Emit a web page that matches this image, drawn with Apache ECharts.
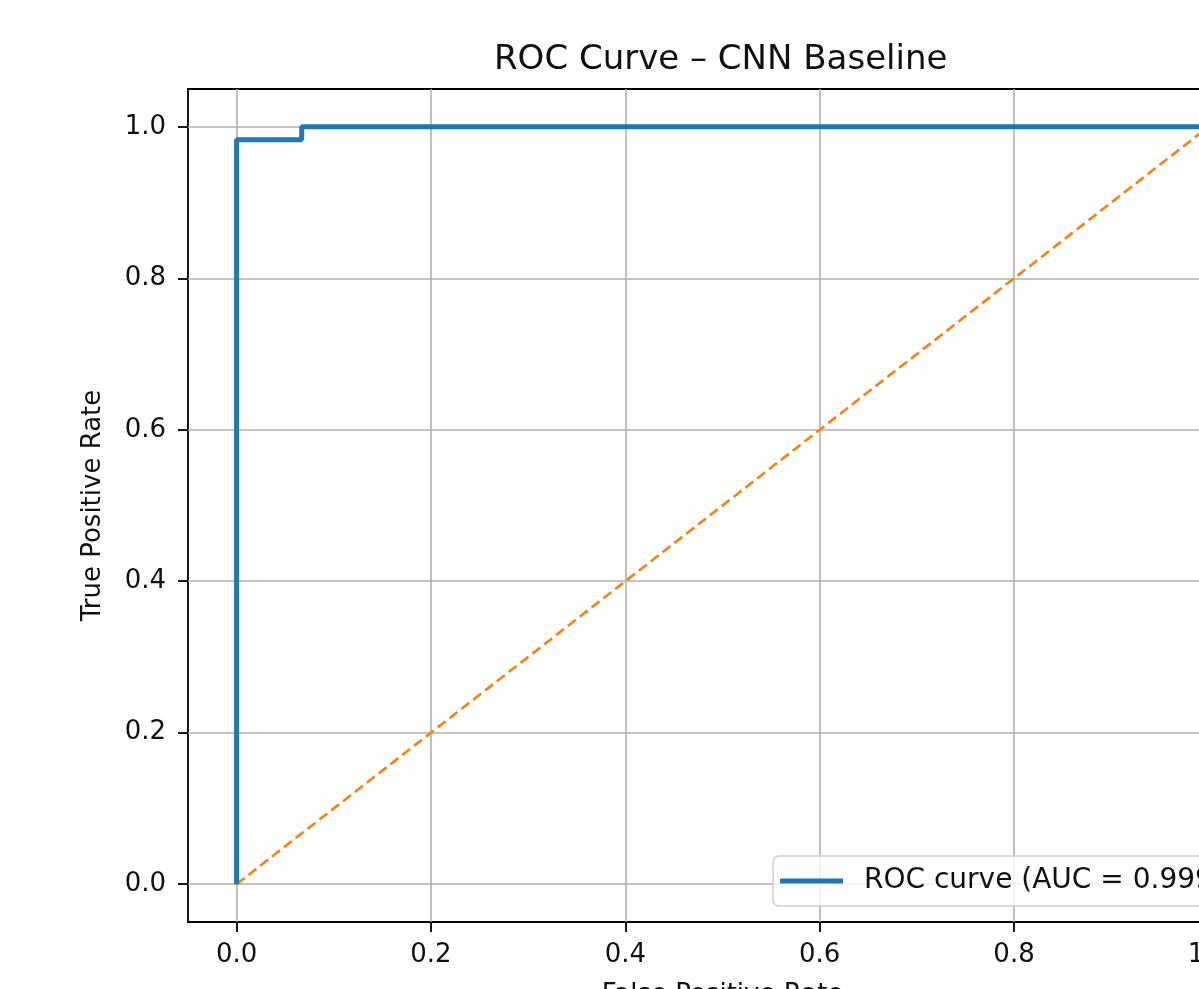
<!DOCTYPE html>
<html>
<head>
<meta charset="utf-8">
<title>ROC Curve</title>
<script src="https://cdn.jsdelivr.net/npm/echarts@6/dist/echarts.min.js"></script>
<style>
  html, body { margin: 0; padding: 0; background: #fff; }
  #chart { width: 1199px; height: 989px; }
</style>
</head>
<body>
<div id="chart"></div>
<script type="text/javascript">
  // ROC curve points (fpr, tpr)
  var rocFpr = [0, 0, 0.067, 0.067, 1];
  var rocTpr = [0, 0.983, 0.983, 1, 1];
  // chance diagonal
  var chanceFpr = [0, 1];
  var chanceTpr = [0, 1];
  var tickValues = [0, 0.2, 0.4, 0.6, 0.8, 1.0];
  var rocName = 'ROC curve (AUC = 0.999)';

  function pairs(xs, ys) {
    var out = [];
    for (var i = 0; i < xs.length; i++) out.push([xs[i], ys[i]]);
    return out;
  }

  var font = 'DejaVu Sans';
  var textColor = '#111';
  var chart = echarts.init(document.getElementById('chart'));

  var axisCommon = {
    type: 'value',
    min: -0.05,
    max: 1.05,
    axisLine: { show: false, onZero: false },
    axisTick: {
      show: true, length: 10, inside: false,
      customValues: tickValues,
      lineStyle: { color: '#000', width: 1.8 }
    },
    axisLabel: {
      customValues: tickValues,
      fontFamily: font, fontSize: 26, color: textColor,
      formatter: function (v) { return v.toFixed(1); }
    },
    splitLine: { show: true, lineStyle: { color: '#b0b0b0', width: 1.6 } },
    nameLocation: 'middle',
    nameTextStyle: { fontFamily: font, fontSize: 26, color: textColor }
  };

  var option = {
    animation: false,
    backgroundColor: '#fff',
    title: {
      text: 'ROC Curve \u2013 CNN Baseline',
      left: 489,
      top: 38,
      textStyle: { fontFamily: font, fontSize: 34, fontWeight: 'normal', color: textColor }
    },
    grid: {
      left: 188, top: 89, right: -58, bottom: 67,
      show: true, borderColor: '#000', borderWidth: 1.8,
      outerBoundsMode: 'none',
      containLabel: false
    },
    legend: {
      data: [rocName],
      left: 773, top: 856,
      orient: 'vertical',
      icon: 'rect',
      padding: [11, 16, 11, 7],
      itemWidth: 63, itemHeight: 5, itemGap: 0,
      backgroundColor: 'rgba(255,255,255,0.8)',
      borderColor: '#d0d0d0', borderWidth: 1.5, borderRadius: 6,
      textStyle: { fontFamily: font, fontSize: 28, color: textColor, padding: [0, 0, 0, 16] }
    },
    xAxis: Object.assign({}, axisCommon, {
      name: 'False Positive Rate',
      nameGap: 60,
      axisLabel: Object.assign({}, axisCommon.axisLabel, { margin: 20 })
    }),
    yAxis: Object.assign({}, axisCommon, {
      name: 'True Positive Rate',
      nameGap: 82,
      axisLabel: Object.assign({}, axisCommon.axisLabel, { margin: 22 })
    }),
    series: [
      {
        name: rocName,
        type: 'line',
        data: pairs(rocFpr, rocTpr),
        symbol: 'none',
        clip: false,
        lineStyle: { color: '#1f77b4', width: 5 },
        itemStyle: { color: '#1f77b4' },
        z: 3
      },
      {
        name: 'chance',
        type: 'line',
        data: pairs(chanceFpr, chanceTpr),
        symbol: 'none',
        lineStyle: { color: '#ff7f0e', width: 2.6, type: [10, 5] },
        itemStyle: { color: '#ff7f0e' },
        z: 2
      }
    ]
  };
  chart.setOption(option);
</script>
</body>
</html>
